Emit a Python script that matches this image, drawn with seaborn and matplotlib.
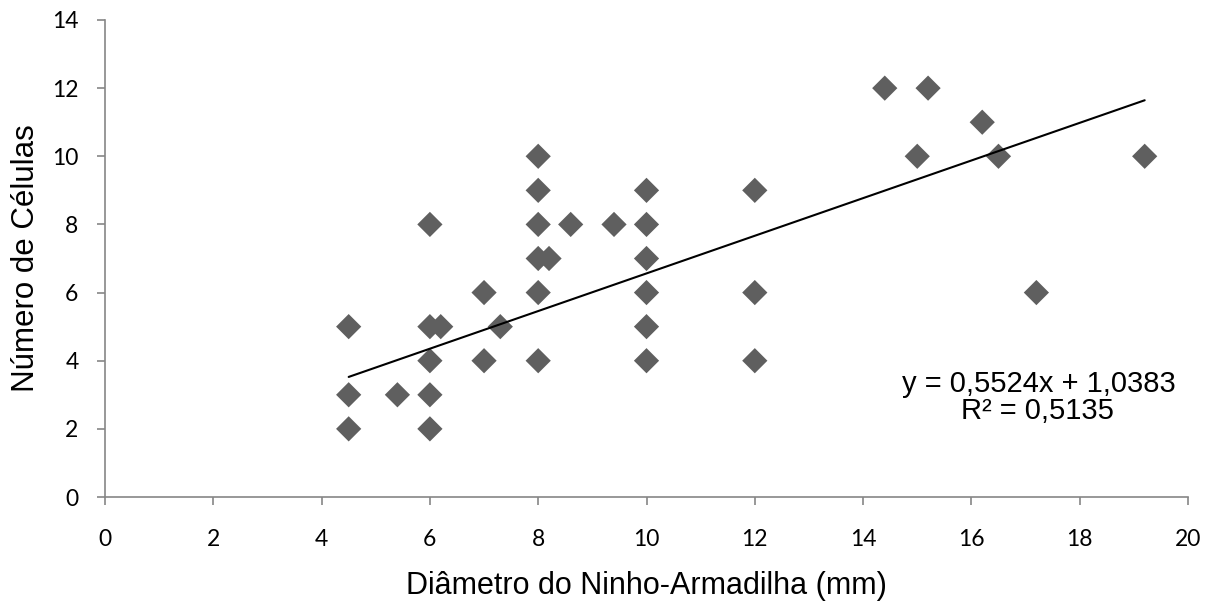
import matplotlib
matplotlib.use("Agg")
import matplotlib.pyplot as plt
import seaborn as sns
import numpy as np
import pandas as pd

# Data
diametro = [4.5, 4.5, 4.5, 5.4, 6, 6, 6, 6, 6, 6.2, 7, 7, 7.3,
            8, 8, 8, 8, 8, 8, 8.2, 8.6, 9.4,
            10, 10, 10, 10, 10, 10, 12, 12, 12,
            14.4, 15.2, 15, 16.2, 16.5, 17.2, 19.2]
celulas = [5, 3, 2, 3, 8, 5, 4, 3, 2, 5, 6, 4, 5,
           10, 9, 8, 7, 6, 4, 7, 8, 8,
           9, 8, 7, 6, 5, 4, 9, 6, 4,
           12, 12, 10, 11, 10, 6, 10]
slope = 0.5524
intercept = 1.0383
r2_text = "R² = 0,5135"
eq_text = "y = 0,5524x + 1,0383"
x_ticks = [0, 2, 4, 6, 8, 10, 12, 14, 16, 18, 20]
y_ticks = [0, 2, 4, 6, 8, 10, 12, 14]

df = pd.DataFrame({"x": diametro, "y": celulas})

sns.set_theme(style="white")
plt.rcParams['font.family'] = ['Liberation Sans', 'DejaVu Sans']

fig = plt.figure(figsize=(12.27, 6.06), dpi=100)
ax = fig.add_axes([105/1227, (606-497)/606, (1188-105)/1227, (497-20)/606])

sns.scatterplot(data=df, x="x", y="y", marker="D", s=165, color="#5f5f5f",
                edgecolor="none", linewidth=0, ax=ax, zorder=2)

xl = np.array([min(diametro), max(diametro)])
line_df = pd.DataFrame({"x": xl, "y": slope * xl + intercept})
sns.lineplot(data=line_df, x="x", y="y", color="black", linewidth=1.5, ax=ax, zorder=3)

ax.set_xlim(0, 20)
ax.set_ylim(0, 14)
ax.set_xticks(x_ticks)
ax.set_yticks(y_ticks)
ax.set_xticklabels([str(t) for t in x_ticks])
ax.set_yticklabels([str(t) for t in y_ticks])
ax.tick_params(axis="both", direction="out", length=6, width=1.2, color="#868686",
               bottom=True, left=True, labelsize=16.5, labelfontfamily="Lato",
               labelcolor="black")
ax.tick_params(axis="y", pad=13)
ax.tick_params(axis="x", pad=17)
for s in ["top", "right"]:
    ax.spines[s].set_visible(False)
for s in ["left", "bottom"]:
    ax.spines[s].set_color("#868686")
    ax.spines[s].set_linewidth(1.2)

ax.set_xlabel("Diâmetro do Ninho-Armadilha (mm)", fontsize=22, labelpad=15, color="black")
ax.set_ylabel("Número de Células", fontsize=22.5, labelpad=8, color="black")

ax.text(0.862, 0.237, eq_text, transform=ax.transAxes, fontsize=21,
        ha="center", va="center", color="black")
ax.text(0.861, 0.180, r2_text, transform=ax.transAxes, fontsize=21,
        ha="center", va="center", color="black")

fig.savefig("out.png", dpi=100)
